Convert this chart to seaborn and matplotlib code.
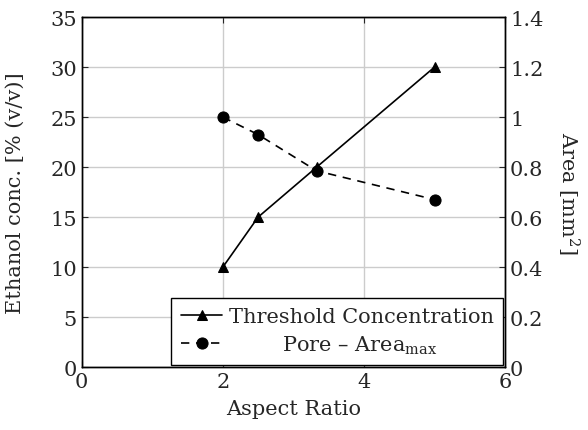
import matplotlib
matplotlib.use("Agg")
import matplotlib.pyplot as plt
import seaborn as sns
import pandas as pd

aspect_ratio = [2.0, 2.5, 3.33, 5.0]
threshold_conc = [10, 15, 20, 30]
pore_area = [1.0, 0.93, 0.785, 0.67]

sns.set_style("ticks")
plt.rcParams['font.family'] = ['DejaVu Serif']
plt.rcParams['mathtext.fontset'] = 'dejavuserif'

fig = plt.figure(figsize=(5.88, 4.31), dpi=100)
ax = fig.add_axes([0.139, 0.146, 0.72, 0.812])
ax2 = ax.twinx()

df1 = pd.DataFrame({"x": aspect_ratio, "y": threshold_conc})
df2 = pd.DataFrame({"x": aspect_ratio, "y": pore_area})

sns.lineplot(data=df1, x="x", y="y", ax=ax, color="black", lw=1.2,
             marker="^", markersize=7.5, markeredgecolor="black", label="Threshold Concentration", legend=False)
sns.lineplot(data=df2, x="x", y="y", ax=ax2, color="black", lw=1.2, linestyle=(0, (5, 4)),
             marker="o", markersize=8, markeredgecolor="black", label="Pore – Area$_{\\mathrm{max}}$", legend=False)

ax.set_xlim(0, 6)
ax.set_ylim(0, 35)
ax2.set_ylim(0, 1.4)
ax.set_xticks([0, 2, 4, 6])
ax.set_yticks(range(0, 36, 5))
ax2.set_yticks([0, 0.2, 0.4, 0.6, 0.8, 1.0, 1.2, 1.4])
ax2.set_yticklabels(["0", "0.2", "0.4", "0.6", "0.8", "1", "1.2", "1.4"])
ax.grid(True, color="#cccccc", lw=1)
ax.set_axisbelow(True)

fs = 15
ax.set_xlabel("Aspect Ratio", fontsize=fs, labelpad=6)
ax.set_ylabel("Ethanol conc. [% (v/v)]", fontsize=fs, labelpad=18)
ax2.set_ylabel("Area [mm$^2$]", fontsize=fs, rotation=-90, labelpad=27)
for a in (ax, ax2):
    a.tick_params(direction="in", labelsize=fs, length=4, width=0.8)
    for s in a.spines.values():
        s.set_linewidth(1.0)
        s.set_color("black")
ax.tick_params(top=True, axis="x")

h1, l1 = ax.get_legend_handles_labels()
h2, l2 = ax2.get_legend_handles_labels()
leg = ax2.legend(h1 + h2, ["Threshold Concentration", "        Pore – Area$_{\\mathrm{max}}$"],
                 loc="lower right", fontsize=fs, frameon=True, fancybox=False,
                 edgecolor="black", framealpha=1, handlelength=2.0, borderaxespad=0.1,
                 labelspacing=0.35, handletextpad=0.3, borderpad=0.45)
leg.get_frame().set_linewidth(1.0)

fig.savefig("out.png", dpi=100)
